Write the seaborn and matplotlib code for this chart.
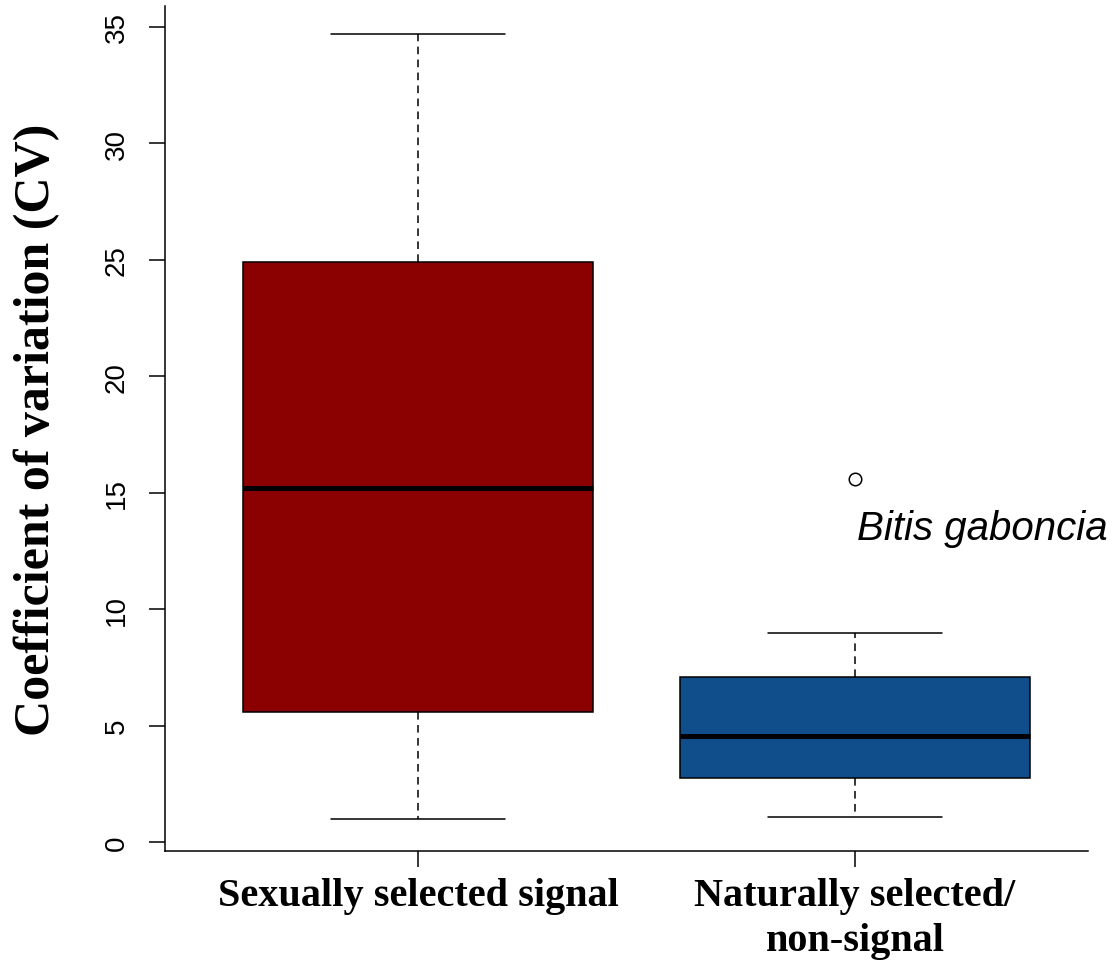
import numpy as np
import pandas as pd
import seaborn as sns
import matplotlib.pyplot as plt

sns.set_style("ticks")
plt.rcParams["text.color"] = "black"
plt.rcParams["xtick.color"] = "black"
plt.rcParams["ytick.color"] = "black"
plt.rcParams["axes.labelcolor"] = "black"

# values (min, Q1, median, Q3, max + outlier)
groups = ["Sexually selected signal", "Naturally selected/\nnon-signal"]
sexual_cv = [1.0, 5.6, 15.2, 24.9, 34.7]
natural_cv = [1.07, 2.0, 2.75, 3.6, 4.55, 5.8, 7.08, 8.97, 15.6]
box_colors = ["#8B0000", "#104E8B"]
yticks = [0, 5, 10, 15, 20, 25, 30, 35]

df = pd.DataFrame({
    "group": [groups[0]] * len(sexual_cv) + [groups[1]] * len(natural_cv),
    "cv": sexual_cv + natural_cv,
})

fig = plt.figure(figsize=(11.17, 9.70), dpi=100)
ax = fig.add_axes([0.1477, 0.1216, 0.8263, 0.8712])

sns.boxplot(data=df, x="group", y="cv", hue="group", order=groups,
            palette=box_colors, saturation=1, width=0.8, whis=1.5,
            linecolor="black", linewidth=1.1, legend=False, ax=ax,
            medianprops=dict(linewidth=3.6, color="black"),
            whiskerprops=dict(linestyle=(0, (5, 3.5)), linewidth=1.1),
            capprops=dict(linewidth=1.1),
            flierprops=dict(marker="o", markersize=9, markerfacecolor="white",
                            markeredgecolor="black", markeredgewidth=1.1))

ax.set_xlim(-0.579, 1.533)
ax.set_ylim(-0.38, 35.9)
ax.set_yticks(yticks)
ax.set_yticklabels([str(t) for t in yticks], rotation=90, va="center",
                   fontsize=20, family="Liberation Sans")
ax.set_xticks([0, 1])
ax.set_xticklabels(groups, fontsize=29, family="Liberation Serif",
                   fontweight="bold", linespacing=1.3)
ax.tick_params(axis="y", length=11.5, width=1.1, pad=14, color="black")
ax.tick_params(axis="x", length=11.5, width=1.1, pad=7, color="black")

ax.set_xlabel("")
ax.set_ylabel("Coefficient of variation (CV)", fontsize=36,
              family="Liberation Serif", fontweight="bold", labelpad=31)

for side in ["top", "right"]:
    ax.spines[side].set_visible(False)
for side in ["left", "bottom"]:
    ax.spines[side].set_linewidth(1.1)
    ax.spines[side].set_color("black")

ax.text(1.005, 13.0, "Bitis gaboncia", fontsize=29, style="italic",
        family="Liberation Sans", ha="left", va="baseline")

fig.savefig("out.png", dpi=100)
